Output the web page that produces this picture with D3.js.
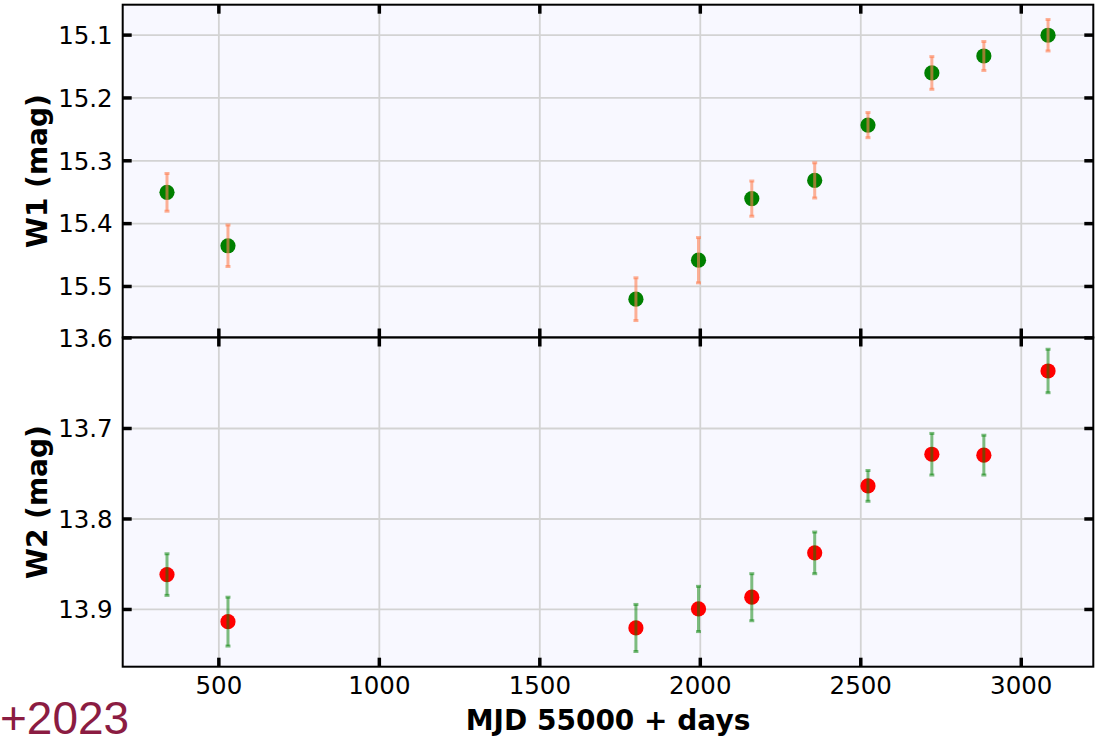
<!DOCTYPE html>
<html>
<head>
<meta charset="utf-8">
<script src="https://cdn.jsdelivr.net/npm/d3@7"></script>
<style>
  html, body { margin: 0; padding: 0; background: #ffffff; }
  svg { display: block; }
  .tick text { font-family: "DejaVu Sans", sans-serif; font-size: 24.5px; fill: #000; }
</style>
</head>
<body>
<svg id="chart" width="1100" height="737"></svg>
<script>
// Epochs (MJD - 55000, days)
const mjd = [340, 530, 1801, 1996, 2162, 2358, 2524, 2723, 2885, 3085];
// W1 magnitudes and uncertainties
const w1 = [15.351, 15.436, 15.521, 15.459, 15.361, 15.332, 15.244, 15.161, 15.134, 15.101];
const w1Err = [0.030, 0.033, 0.034, 0.036, 0.028, 0.028, 0.020, 0.026, 0.023, 0.025];
// W2 magnitudes and uncertainties
const w2 = [13.862, 13.914, 13.921, 13.900, 13.887, 13.838, 13.764, 13.729, 13.730, 13.637];
const w2Err = [0.023, 0.027, 0.026, 0.025, 0.026, 0.023, 0.017, 0.023, 0.022, 0.024];
// Tick values
const xTicks = [500, 1000, 1500, 2000, 2500, 3000];
const w1Ticks = [15.1, 15.2, 15.3, 15.4, 15.5];
const w2Ticks = [13.6, 13.7, 13.8, 13.9];

const svg = d3.select("#chart");
const left = 122.7, right = 1093.3;
const topY0 = 4.7, midY = 337.5, botY1 = 666.7;

const x = d3.scaleLinear().domain([202, 3226]).range([left, right]);
const y1 = d3.scaleLinear().domain([15.0524, 15.582]).range([topY0, midY]);
const y2 = d3.scaleLinear().domain([13.6, 13.9638]).range([midY, botY1]);

const panels = [
  { y: y1, mags: w1, errs: w1Err, ticks: w1Ticks, top: topY0, bottom: midY,
    marker: "#008000", bar: "#ff7f50", barOpacity: 0.6, label: "W1 (mag)" },
  { y: y2, mags: w2, errs: w2Err, ticks: w2Ticks, top: midY, bottom: botY1,
    marker: "#ff0000", bar: "#008000", barOpacity: 0.5, label: "W2 (mag)" }
];

const fmt = d3.format(".1f");

panels.forEach((p, i) => {
  const h = p.bottom - p.top;
  const g = svg.append("g");

  // plot background
  g.append("rect").attr("x", left).attr("y", p.top)
    .attr("width", right - left).attr("height", h).attr("fill", "#f8f8ff");

  // grid
  const gx = g.append("g").attr("transform", `translate(0,${p.bottom})`)
    .call(d3.axisBottom(x).tickValues(xTicks).tickSize(-h).tickFormat(""));
  const gy = g.append("g").attr("transform", `translate(${left},0)`)
    .call(d3.axisLeft(p.y).tickValues(p.ticks).tickSize(-(right - left)).tickFormat(""));
  [gx, gy].forEach(a => {
    a.select(".domain").remove();
    a.selectAll(".tick line").attr("stroke", "#d3d3d3").attr("stroke-width", 1.8);
  });

  const data = mjd.map((d, k) => ({ t: d, m: p.mags[k], e: p.errs[k] }));

  // markers
  g.append("g").selectAll("circle").data(data).join("circle")
    .attr("cx", d => x(d.t)).attr("cy", d => p.y(d.m)).attr("r", 7.6)
    .attr("fill", p.marker);

  // error bars with caps
  const eb = g.append("g").selectAll("g").data(data).join("g");
  eb.append("line")
    .attr("x1", d => x(d.t)).attr("x2", d => x(d.t))
    .attr("y1", d => p.y(d.m - d.e)).attr("y2", d => p.y(d.m + d.e))
    .attr("stroke", p.bar).attr("stroke-width", 3).attr("stroke-opacity", p.barOpacity);
  [-1, 1].forEach(s => {
    eb.append("line")
      .attr("x1", d => x(d.t) - 2.5).attr("x2", d => x(d.t) + 2.5)
      .attr("y1", d => p.y(d.m + s * d.e)).attr("y2", d => p.y(d.m + s * d.e))
      .attr("stroke", p.bar).attr("stroke-width", 3).attr("stroke-opacity", p.barOpacity);
  });

  // ticks: left (labelled), right, top, bottom - all pointing inward
  const axL = g.append("g").attr("transform", `translate(${left},0)`)
    .call(d3.axisLeft(p.y).tickValues(p.ticks).tickSizeInner(-9).tickSizeOuter(0)
      .tickPadding(10).tickFormat(fmt));
  axL.selectAll(".tick text").attr("dy", "0.36em");
  const axR = g.append("g").attr("transform", `translate(${right},0)`)
    .call(d3.axisRight(p.y).tickValues(p.ticks).tickSizeInner(-9).tickSizeOuter(0).tickFormat(""));
  const axT = g.append("g").attr("transform", `translate(0,${p.top})`)
    .call(d3.axisTop(x).tickValues(xTicks).tickSizeInner(-9).tickSizeOuter(0).tickFormat(""));
  const axB = g.append("g").attr("transform", `translate(0,${p.bottom})`)
    .call(d3.axisBottom(x).tickValues(xTicks).tickSizeInner(-9).tickSizeOuter(0)
      .tickPadding(10).tickFormat(i === 1 ? d3.format("d") : ""));
  [axL, axR, axT, axB].forEach(a => {
    a.select(".domain").remove();
    a.selectAll(".tick line").attr("stroke", "#000").attr("stroke-width", 3.5);
  });

  // frame
  g.append("rect").attr("x", left).attr("y", p.top)
    .attr("width", right - left).attr("height", h)
    .attr("fill", "none").attr("stroke", "#000").attr("stroke-width", 2);

  // y-axis title
  svg.append("text")
    .attr("transform", `translate(47,${(p.top + p.bottom) / 2}) rotate(-90)`)
    .attr("text-anchor", "middle")
    .attr("font-family", "DejaVu Sans, sans-serif").attr("font-weight", "bold")
    .attr("font-size", 28).text(p.label);
});

// x-axis title
svg.append("text")
  .attr("x", (left + right) / 2).attr("y", 730)
  .attr("text-anchor", "middle")
  .attr("font-family", "DejaVu Sans, sans-serif").attr("font-weight", "bold")
  .attr("font-size", 28).text("MJD 55000 + days");

// corner stamp
svg.append("text")
  .attr("x", 0).attr("y", 734)
  .attr("font-family", "Liberation Sans, Arial, sans-serif")
  .attr("font-size", 46).attr("fill", "#8b1c42").text("+2023");
</script>
</body>
</html>
